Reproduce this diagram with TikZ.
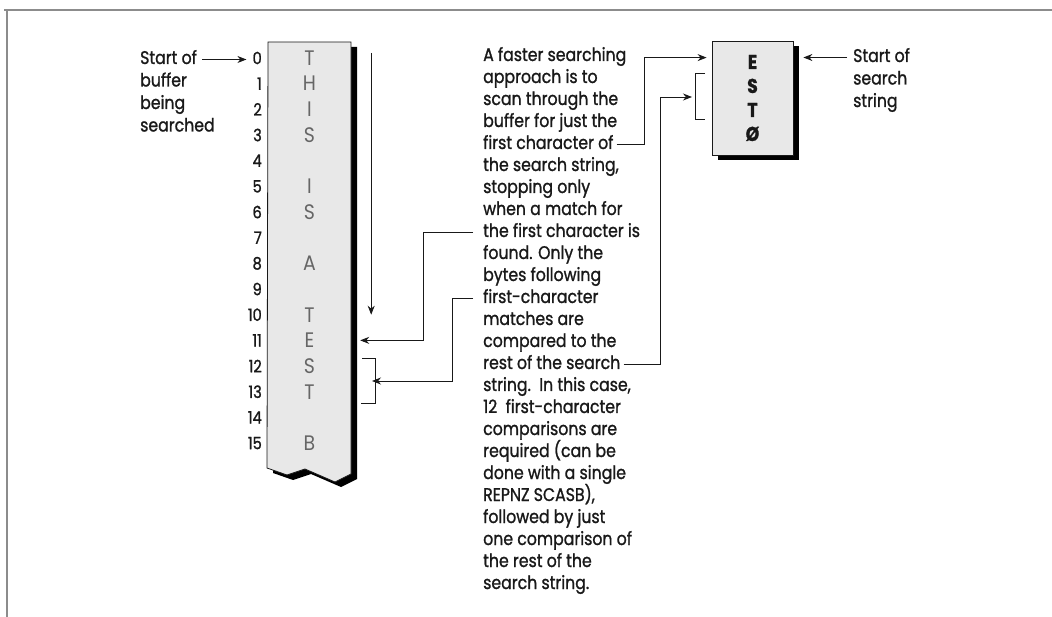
\documentclass[tikz,border=0pt]{standalone}
\usepackage{fontspec}
\setmainfont{Poppins}[FakeStretch=0.86, FakeBold=1.2]
\newfontfamily\lightface{Poppins}[FakeStretch=0.9]
\usepackage{tikz}
\usetikzlibrary{arrows.meta,shadows}

\definecolor{ink}{gray}{0.1}
\definecolor{paper}{gray}{0.91}
\definecolor{faint}{gray}{0.4}
\definecolor{rule}{gray}{0.55}

\begin{document}
\begin{tikzpicture}[
    x=1pt, y=-1pt,
    arr/.style={-{Stealth[length=9pt,width=7pt]}, line width=0.9pt, draw=ink},
    wire/.style={line width=0.9pt, draw=ink},
    ln/.style={anchor=base west, inner sep=0pt, text height=13pt, text depth=4pt,
      font=\fontsize{18.3}{22}\selectfont, text=ink},
    idx/.style={anchor=east, inner sep=0pt, font=\fontsize{17}{20}\selectfont, text=ink},
    cell/.style={minimum width=83pt, minimum height=25.67pt, inner sep=0pt,
      font=\lightface\fontsize{21}{22}\selectfont, text=faint},
    strbox/.style={draw=ink, line width=0.8pt, fill=paper, minimum width=81pt,
      minimum height=114pt, align=center, text=ink,
      font=\bfseries\fontsize{20}{24}\selectfont,
      drop shadow={shadow xshift=6pt, shadow yshift=-5pt, opacity=1, fill=black}}
  ]
  \useasboundingbox (0,0) rectangle (1052,617);

  % frame
  \draw[rule, line width=1.6pt] (4,10) -- (1052,10);
  \draw[rule, line width=1.6pt] (7,10) -- (7,617);

  % ══ BUFFER ════════════════════════════════════════════════════════════
  \fill[black, shift={(6,5)}]
    (268,42) -- (351,42) -- (351,474) -- (335,482) -- (305,469)
    -- (287,475) -- (267,468) -- cycle;
  \draw[ink, line width=0.8pt, fill=paper]
    (268,42) -- (351,42) -- (351,474) -- (335,482) -- (305,469)
    -- (287,475) -- (267,468) -- cycle;

  \foreach \c [count=\i from 0] in {T,H,I,S,{},I,S,{},A,{},T,E,S,T,{},B} {
    \node[cell] (c\i) at (309.5,{58+25.67*\i}) {\c};
    \node[idx] (n\i) at (262,{58+25.67*\i}) {\i};
  }

  \foreach \t [count=\k] in {Start of, buffer, being, searched}
    \node[ln] (sb\k) at (140,{64+22.5*(\k-1)}) {\t};
  \draw[arr, shorten <=5pt, shorten >=6pt] (sb1.east) -- (sb1.east -| n0.west);

  % scan arrow
  \draw[arr] ([xshift=20pt,yshift=5pt]c0.east) -- ([xshift=20pt]c10.east);

  % bracket on the matched bytes
  \draw[wire] (362,358) -| (375,403) -- (361,403);
  \coordinate (brk) at (375,381);

  % ══ SEARCH STRING ═════════════════════════════════════════════════════
  \node[strbox] (srch) at (752.5,98) {E\\S\\T\\Ø};
  \draw[wire] (705,73) -| (695,119) -- (705,119);
  \coordinate (brk2) at (695,97);

  \foreach \t [count=\k] in {Start of, search, string}
    \node[ln] (ss\k) at (853,{62+22.5*(\k-1)}) {\t};
  \draw[arr, shorten <=6pt, shorten >=10pt] (ss1.west) -- (ss1.west -| srch.east);

  % ══ EXPLANATION ═══════════════════════════════════════════════════════
  \foreach \t [count=\k] in {A faster searching, approach is to,
      scan through the, buffer for just the, first character of,
      {the search string,}, stopping only, when a match for,
      the first character is, found. Only the, bytes following,
      first-character, matches are, compared to the, rest of the search,
      {string.\ \ In this case,}, 12\ \ first-character, comparisons are,
      required (can be, done with a single, {REPNZ SCASB),},
      followed by just, one comparison of, the rest of the, search string.}
    \node[ln] (l\k) at (483,{61+22*(\k-1)}) {\t};

  % connectors
  \draw[arr, shorten <=10pt, shorten >=9pt]
    (l9.west) -- (l9.west -| 423,0) |- (c11.east);
  \draw[arr, shorten <=10pt, shorten >=-3pt]
    (l12.west) -- (l12.west -| 452,0) |- (brk);
  \draw[arr, shorten <=3pt, shorten >=5pt]
    (l5.east) -- (l5.east -| 644,0) |- ([yshift=-17pt]srch.north west);
  \draw[arr, shorten <=3pt, shorten >=3pt]
    (l15.east) -- (l15.east -| 660,0) |- (brk2);

\end{tikzpicture}
\end{document}
